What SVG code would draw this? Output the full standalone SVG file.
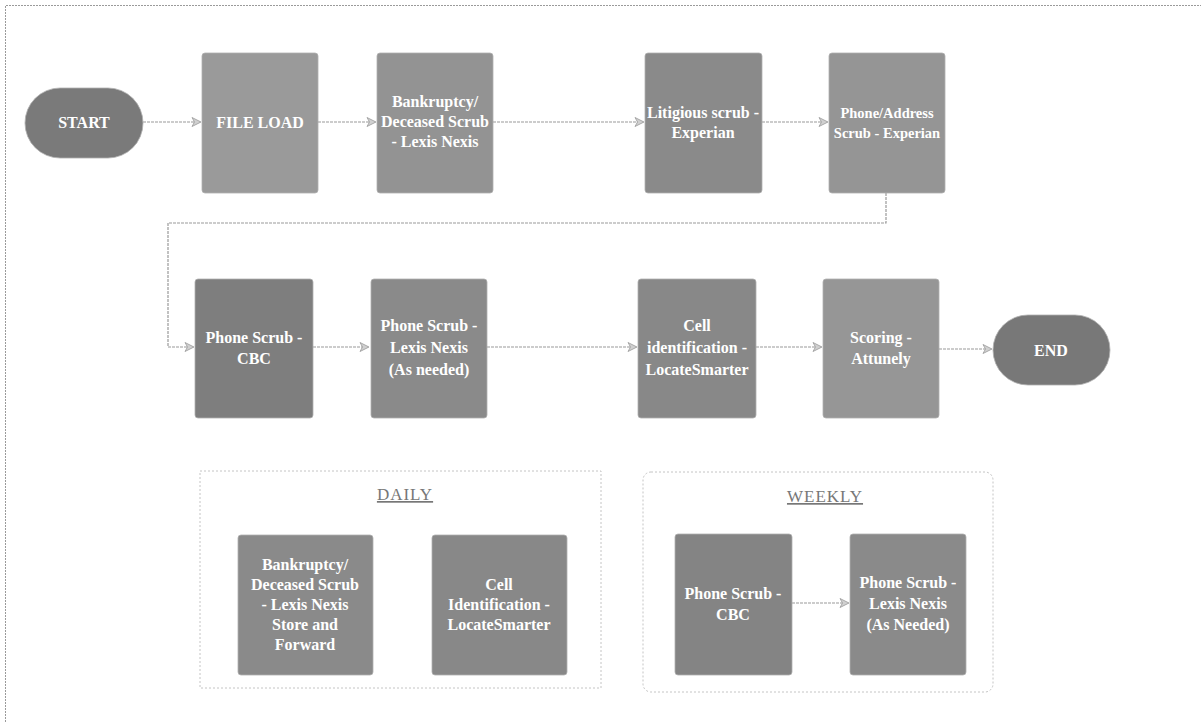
<svg xmlns="http://www.w3.org/2000/svg" width="1201" height="722" viewBox="0 0 1201 722">
<style>
.box{stroke:#b0b0b0;stroke-width:0.8}
.t{font-family:"Liberation Serif","Times New Roman",serif;font-weight:bold;font-size:16px;fill:#ffffff;text-anchor:middle}
.s{font-size:14.5px}
.h{font-family:"Liberation Serif","Times New Roman",serif;font-size:17px;fill:#777777;text-anchor:middle;text-decoration:underline;letter-spacing:1px}
.c{fill:none;stroke:#9a9a9a;stroke-width:1.2;stroke-dasharray:3 1}
.g{fill:none;stroke:#c4c4c4;stroke-width:1;stroke-dasharray:2 2}
</style>
<defs>
<marker id="arr" markerWidth="12" markerHeight="12" refX="9" refY="6" orient="auto" markerUnits="userSpaceOnUse">
<path d="M1,1.5 L10,6 L1,10.5 L3.5,6 Z" fill="#d0d0d0" stroke="#999999" stroke-width="0.8"/>
</marker>
</defs>
<rect width="1201" height="722" fill="#ffffff"/>
<path d="M5.5,722 V5.5 H1201" fill="none" stroke="#9a9a9a" stroke-width="1" stroke-dasharray="2 1"/>

<g id="group-daily">
<rect class="g" x="200" y="471" width="401" height="217"/>
<text class="h" x="405" y="500">DAILY</text>
</g>
<g id="group-weekly">
<rect class="g" x="643" y="472" width="350" height="220" rx="8"/>
<text class="h" x="825" y="502">WEEKLY</text>
</g>

<g id="connectors">
<path class="c" d="M143,122 H200" marker-end="url(#arr)"/>
<path class="c" d="M318,122 H375" marker-end="url(#arr)"/>
<path class="c" d="M493,122 H643" marker-end="url(#arr)"/>
<path class="c" d="M762,122 H827" marker-end="url(#arr)"/>
<path class="c" d="M886,193 V223 H168 V347 H193" marker-end="url(#arr)"/>
<path class="c" d="M313,347 H368" marker-end="url(#arr)"/>
<path class="c" d="M487,347 H636" marker-end="url(#arr)"/>
<path class="c" d="M756,347 H821" marker-end="url(#arr)"/>
<path class="c" d="M939,349 H991" marker-end="url(#arr)"/>
<path class="c" d="M792,603 H848" marker-end="url(#arr)"/>
</g>

<g id="start">
<rect class="box" x="25" y="88" width="118" height="70" rx="35" fill="#7a7a7a"/>
<text class="t" x="84" y="128">START</text>
</g>
<g id="file-load">
<rect class="box" x="202" y="53" width="116" height="140" rx="3" fill="#9a9a9a"/>
<text class="t" x="260" y="128">FILE LOAD</text>
</g>
<g id="bankruptcy">
<rect class="box" x="377" y="53" width="116" height="140" rx="3" fill="#939393"/>
<text class="t" x="435" y="107">Bankruptcy/</text>
<text class="t" x="435" y="127">Deceased Scrub</text>
<text class="t" x="435" y="147">- Lexis Nexis</text>
</g>
<g id="litigious">
<rect class="box" x="645" y="53" width="117" height="140" rx="3" fill="#8a8a8a"/>
<text class="t" x="703" y="118">Litigious scrub -</text>
<text class="t" x="703" y="138">Experian</text>
</g>
<g id="phone-address">
<rect class="box" x="829" y="53" width="116" height="140" rx="3" fill="#959595"/>
<text class="t s" x="887" y="118">Phone/Address</text>
<text class="t s" x="887" y="138">Scrub - Experian</text>
</g>

<g id="phone-cbc">
<rect class="box" x="195" y="279" width="118" height="139" rx="3" fill="#7e7e7e"/>
<text class="t" x="254" y="343">Phone Scrub -</text>
<text class="t" x="254" y="364">CBC</text>
</g>
<g id="phone-lexis">
<rect class="box" x="371" y="279" width="116" height="139" rx="3" fill="#8a8a8a"/>
<text class="t" x="429" y="331">Phone Scrub -</text>
<text class="t" x="429" y="353">Lexis Nexis</text>
<text class="t" x="429" y="375">(As needed)</text>
</g>
<g id="cell-id">
<rect class="box" x="638" y="279" width="118" height="139" rx="3" fill="#888888"/>
<text class="t" x="697" y="331">Cell</text>
<text class="t" x="697" y="353">identification -</text>
<text class="t" x="697" y="375">LocateSmarter</text>
</g>
<g id="scoring">
<rect class="box" x="823" y="279" width="116" height="139" rx="3" fill="#969696"/>
<text class="t" x="881" y="343">Scoring -</text>
<text class="t" x="881" y="364">Attunely</text>
</g>
<g id="end">
<rect class="box" x="993" y="315" width="117" height="70" rx="35" fill="#787878"/>
<text class="t" x="1051" y="356">END</text>
</g>

<g id="daily-bankruptcy">
<rect class="box" x="238" y="535" width="135" height="140" rx="3" fill="#8a8a8a"/>
<text class="t" x="305" y="570">Bankruptcy/</text>
<text class="t" x="305" y="590">Deceased Scrub</text>
<text class="t" x="305" y="610">- Lexis Nexis</text>
<text class="t" x="305" y="630">Store and</text>
<text class="t" x="305" y="650">Forward</text>
</g>
<g id="daily-cell">
<rect class="box" x="432" y="535" width="135" height="140" rx="3" fill="#888888"/>
<text class="t" x="499" y="590">Cell</text>
<text class="t" x="499" y="610">Identification -</text>
<text class="t" x="499" y="630">LocateSmarter</text>
</g>
<g id="weekly-cbc">
<rect class="box" x="675" y="534" width="117" height="141" rx="3" fill="#848484"/>
<text class="t" x="733" y="599">Phone Scrub -</text>
<text class="t" x="733" y="620">CBC</text>
</g>
<g id="weekly-lexis">
<rect class="box" x="850" y="534" width="116" height="141" rx="3" fill="#8a8a8a"/>
<text class="t" x="908" y="588">Phone Scrub -</text>
<text class="t" x="908" y="609">Lexis Nexis</text>
<text class="t" x="908" y="630">(As Needed)</text>
</g>
</svg>
